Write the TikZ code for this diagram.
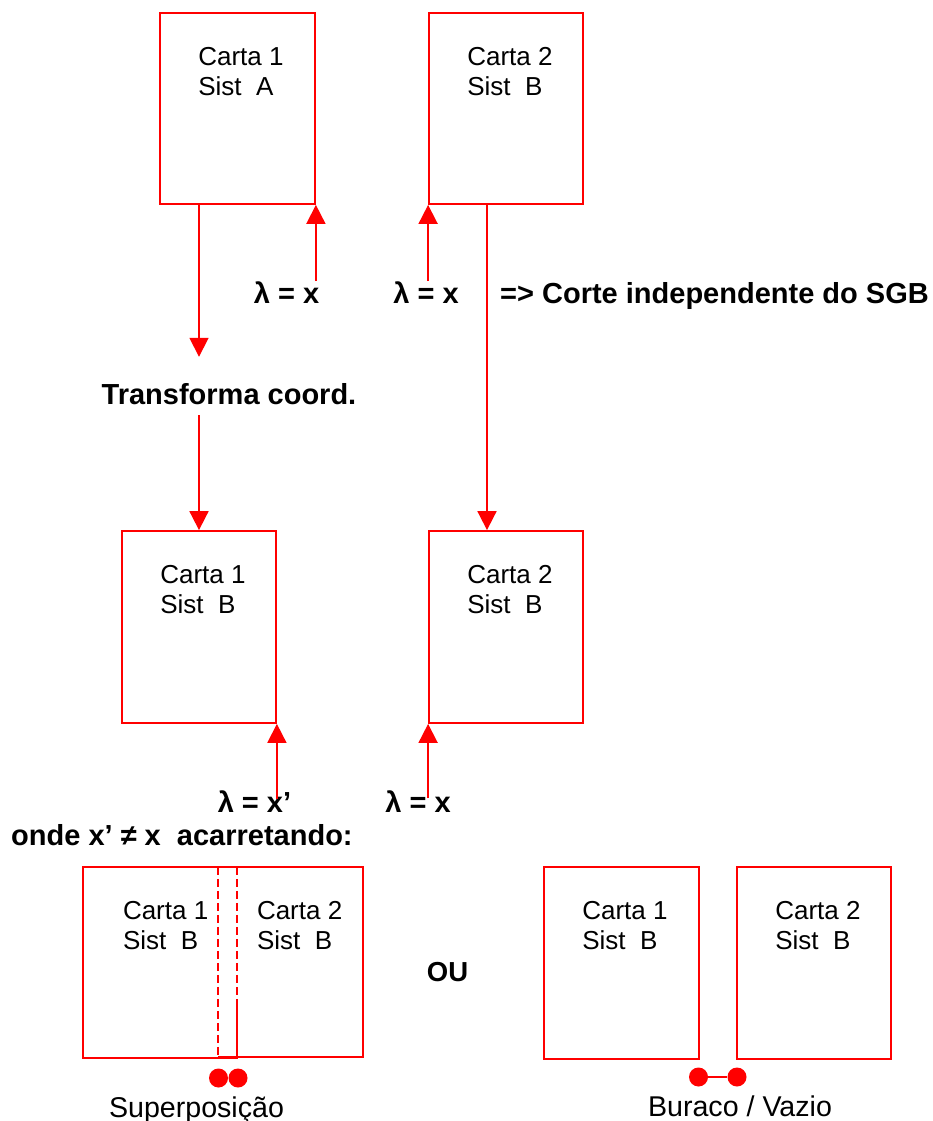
\documentclass[tikz,border=0pt]{standalone}
\usepackage{fontspec}
\setmainfont{Liberation Sans}
\usetikzlibrary{arrows.meta}
% two stacked lines inside a sheet; baseline is the first line
\newcommand\cardlines[2]{\vtop{\hbox{#1}\hbox{#2}}}

\begin{document}
\begin{tikzpicture}[x=1pt,y=-1pt,
  card/.style={draw=red, line width=1.8pt, inner sep=0pt},
  sheet/.style={inner sep=0pt},
  frame/.style={draw=red, line width=1.8pt},
  cardtxt/.style={anchor=base west, inner sep=0pt, font=\fontsize{26}{30}\selectfont},
  lbl/.style={anchor=base, inner sep=0pt, font=\fontsize{29}{34}\selectfont\bfseries},
  captxt/.style={anchor=base, inner sep=0pt, font=\fontsize{28.6}{34}\selectfont},
  arr/.style={draw=red, line width=1.8pt, -{Triangle[width=19pt,length=19pt]}},
  dot/.style={circle, fill=red, minimum size=19pt, inner sep=0pt},
]
\useasboundingbox (0,0) rectangle (933,1121);

% sheets
\node[card, minimum width=155pt, minimum height=191pt] (A) at (237.5,108.5) {};
\node[card, minimum width=154pt, minimum height=191pt] (B) at (506,108.5) {};
\node[card, minimum width=154pt, minimum height=192pt] (C) at (199,627) {};
\node[card, minimum width=154pt, minimum height=192pt] (D) at (506,627) {};
\node[sheet, minimum width=154pt, minimum height=191pt] (E) at (160,962.5) {};
\node[sheet, minimum width=145pt, minimum height=190pt] (F) at (290.5,962) {};
\node[card, minimum width=155pt, minimum height=192pt] (G) at (621.5,963) {};
\node[card, minimum width=154pt, minimum height=192pt] (H) at (814,963) {};

% overlapping pair: shared strip dashed
\draw[frame] ([yshift=58pt]E.south east) -- (E.south east) -- (E.south west) -- (E.north west) -- (E.north east);
\draw[frame, dash pattern=on 8pt off 4pt] (E.north east) -- ([yshift=58pt]E.south east);
\draw[frame] (F.north west) -- (F.north east) -- (F.south east) -- (F.south west);
\draw[frame, dash pattern=on 8pt off 4pt] (F.north west) -- (F.south west);

% sheet captions
\node[cardtxt] (tA) at ([xshift=39pt,yshift=-53pt]A.north west) {\cardlines{Carta 1}{Sist~~A}};
\node[cardtxt] (tB) at ([xshift=39pt,yshift=-53pt]B.north west) {\cardlines{Carta 2}{Sist~~B}};
\node[cardtxt] (tC) at ([xshift=39pt,yshift=-53pt]C.north west) {\cardlines{Carta 1}{Sist~~B}};
\node[cardtxt] (tD) at ([xshift=39pt,yshift=-53pt]D.north west) {\cardlines{Carta 2}{Sist~~B}};
\node[cardtxt] (tE) at ([xshift=40pt,yshift=-53pt]E.north west) {\cardlines{Carta 1}{Sist~~B}};
\node[cardtxt] (tF) at ([xshift=39pt,yshift=-53pt]F.north west) {\cardlines{Carta 2}{Sist~~B}};
\node[cardtxt] (tG) at ([xshift=39pt,yshift=-53pt]G.north west) {\cardlines{Carta 1}{Sist~~B}};
\node[cardtxt] (tH) at ([xshift=39pt,yshift=-53pt]H.north west) {\cardlines{Carta 2}{Sist~~B}};

% labels
\node[lbl] (T) at (229,404) {Transforma coord.};
\node[lbl] (L1) at (286.5,303) {λ = x};
\node[lbl] (L2) at (426,303) {λ = x};
\node[lbl, anchor=base west] (K) at (500,303) {=> Corte independente do SGB};
\node[lbl] (L3) at (254.5,812) {λ = x’};
\node[lbl] (L4) at (418,812) {λ = x};
\node[lbl, anchor=base west] (W) at (11,845) {onde x’ ≠ x\ \ acarretando:};
\node[lbl, font=\fontsize{27.5}{32}\selectfont\bfseries] (OU) at (447.5,981) {OU};

% connectors
\draw[arr, shorten >=26pt] (A.south -| C.north) -- (T.north -| C.north);
\draw[arr, shorten <=11pt] (T.south -| C.north) -- (C.north);
\draw[arr] ([xshift=-19pt]B.south) -- ([xshift=-19pt]D.north);
\draw[arr] (L1.north -| A.south east) -- (A.south east);
\draw[arr] (L2.north -| B.south west) -- (B.south west);
\draw[arr, shorten <=-9pt] (L3.north -| C.south east) -- (C.south east);
\draw[arr, shorten <=-8pt] (L4.north -| D.south west) -- (D.south west);

% overlap / gap markers
\node[dot] (d1) at (218.5,1078) {};
\node[dot] (d2) at (238,1078) {};
\node[dot] (d3) at (698.5,1077) {};
\node[dot] (d4) at (737,1077) {};
\draw[frame] (d3) -- (d4);
\node[captxt] (S) at (196.5,1117) {Superposição};
\node[captxt] (V) at (740,1116) {Buraco / Vazio};
\end{tikzpicture}
\end{document}
